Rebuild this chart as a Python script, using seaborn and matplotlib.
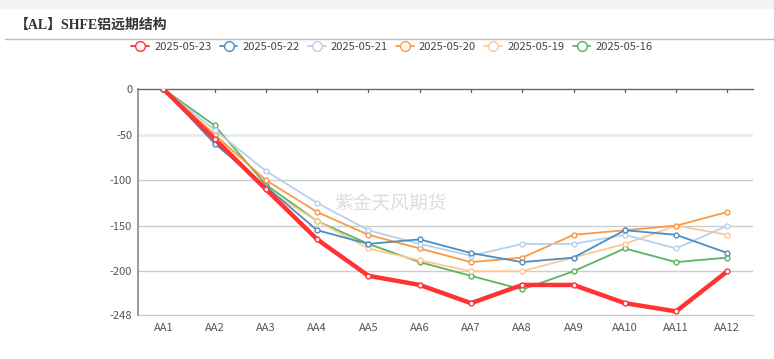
import matplotlib
matplotlib.use("Agg")
import matplotlib.pyplot as plt
from matplotlib.lines import Line2D
from matplotlib.patches import Rectangle
import pandas as pd
import seaborn as sns

# contracts and spreads
contracts = ["AA1", "AA2", "AA3", "AA4", "AA5", "AA6", "AA7", "AA8", "AA9", "AA10", "AA11", "AA12"]
d0523 = [0, -55, -110, -165, -205, -215, -235, -215, -215, -235, -244, -200]
d0522 = [0, -60, -107, -155, -170, -165, -180, -190, -185, -155, -160, -180]
d0521 = [0, -45, -90, -125, -155, -170, -183, -170, -170, -160, -175, -150]
d0520 = [0, -50, -100, -135, -160, -175, -190, -185, -160, -155, -150, -135]
d0519 = [0, -50, -110, -145, -175, -188, -200, -200, -185, -170, -150, -160]
d0516 = [0, -40, -105, -145, -170, -190, -205, -220, -200, -175, -190, -185]

dates = ["2025-05-23", "2025-05-22", "2025-05-21", "2025-05-20", "2025-05-19", "2025-05-16"]
series = [d0523, d0522, d0521, d0520, d0519, d0516]
colors = ["#ff3333", "#4a8fc4", "#b9d0ec", "#f99a45", "#ffc792", "#5cb45c"]
widths = [3.2, 1.3, 1.3, 1.3, 1.3, 1.3]

rows = []
for date, vals in zip(dates, series):
    for i, (c, v) in enumerate(zip(contracts, vals)):
        rows.append({"date": date, "idx": i, "contract": c, "spread": v})
df = pd.DataFrame(rows)

sns.set_style("white")
plt.rcParams["font.family"] = ["Noto Sans CJK SC", "DejaVu Sans"]

fig = plt.figure(figsize=(7.74, 3.59), dpi=100)
fig.patches.append(Rectangle((0, 1 - 8 / 359), 1, 8 / 359, transform=fig.transFigure,
                             color="#f2f2f2", zorder=0))
fig.add_artist(Line2D([5 / 774, 1], [1 - 39 / 359, 1 - 39 / 359], color="#bbbbbb", lw=1))
fig.text(15 / 774, 1 - 25 / 359, "【AL】SHFE铝远期结构", fontsize=10, fontweight="bold",
         color="#333333", va="center", ha="left",
         family=["Liberation Serif", "Noto Sans CJK SC"])

ax = fig.add_axes([137.7 / 774, 1 - 315 / 359, (753 - 137.7) / 774, (315 - 89) / 359])

# draw red last so it sits on top
for k in reversed(range(len(dates))):
    sub = df[df["date"] == dates[k]]
    sns.lineplot(data=sub, x="idx", y="spread", ax=ax, color=colors[k], lw=widths[k],
                 marker="o", markersize=3.5, markerfacecolor="white",
                 markeredgecolor=colors[k], markeredgewidth=1, zorder=3 + (5 - k),
                 legend=False)

ax.set_xlim(-0.5, 11.5)
ax.set_ylim(-248, 0)
ax.set_yticks([0, -50, -100, -150, -200, -248])
ax.set_yticklabels(["0", "-50", "-100", "-150", "-200", "-248"])
ax.set_xticks(range(len(contracts)))
ax.set_xticklabels(contracts)
ax.set_xlabel("")
ax.set_ylabel("")
ax.tick_params(axis="both", labelsize=8, colors="#555555", length=0, pad=6)
ax.tick_params(axis="y", pad=4)
for y in [-100, -150, -200]:
    ax.axhline(y, color="#cccccc", lw=1, zorder=1)
ax.axhline(-248, color="#cccccc", lw=1, zorder=1, clip_on=False)
ax.axhline(-50, color="#e8e8e8", lw=1.8, zorder=1)

for s in ["right", "bottom"]:
    ax.spines[s].set_visible(False)
ax.spines["left"].set_color("#888888")
ax.spines["left"].set_linewidth(1.2)
ax.spines["top"].set_color("#666666")
ax.spines["top"].set_linewidth(1)
for i in range(len(contracts)):
    ax.plot([i, i], [0, -3.5], color="#555555", lw=0.9, clip_on=False, zorder=2)

ax.text((390 - 137.7) / 615.3, 0.49, "紫金天风期货", transform=ax.transAxes, fontsize=13.5,
        color="#dddddd", ha="center", va="center", zorder=0)

handles = [Line2D([0], [0], color=c, lw=1.3, marker="o", markersize=7,
                  markerfacecolor="white", markeredgecolor=c, markeredgewidth=1)
           for c in colors]
fig.legend(handles, dates, loc="center", bbox_to_anchor=(392 / 774, 1 - 47 / 359), ncol=6,
           frameon=False, fontsize=8, handlelength=1.6, handletextpad=0.45,
           columnspacing=0.75, labelcolor="#444444")

fig.savefig("out.png", dpi=100)
